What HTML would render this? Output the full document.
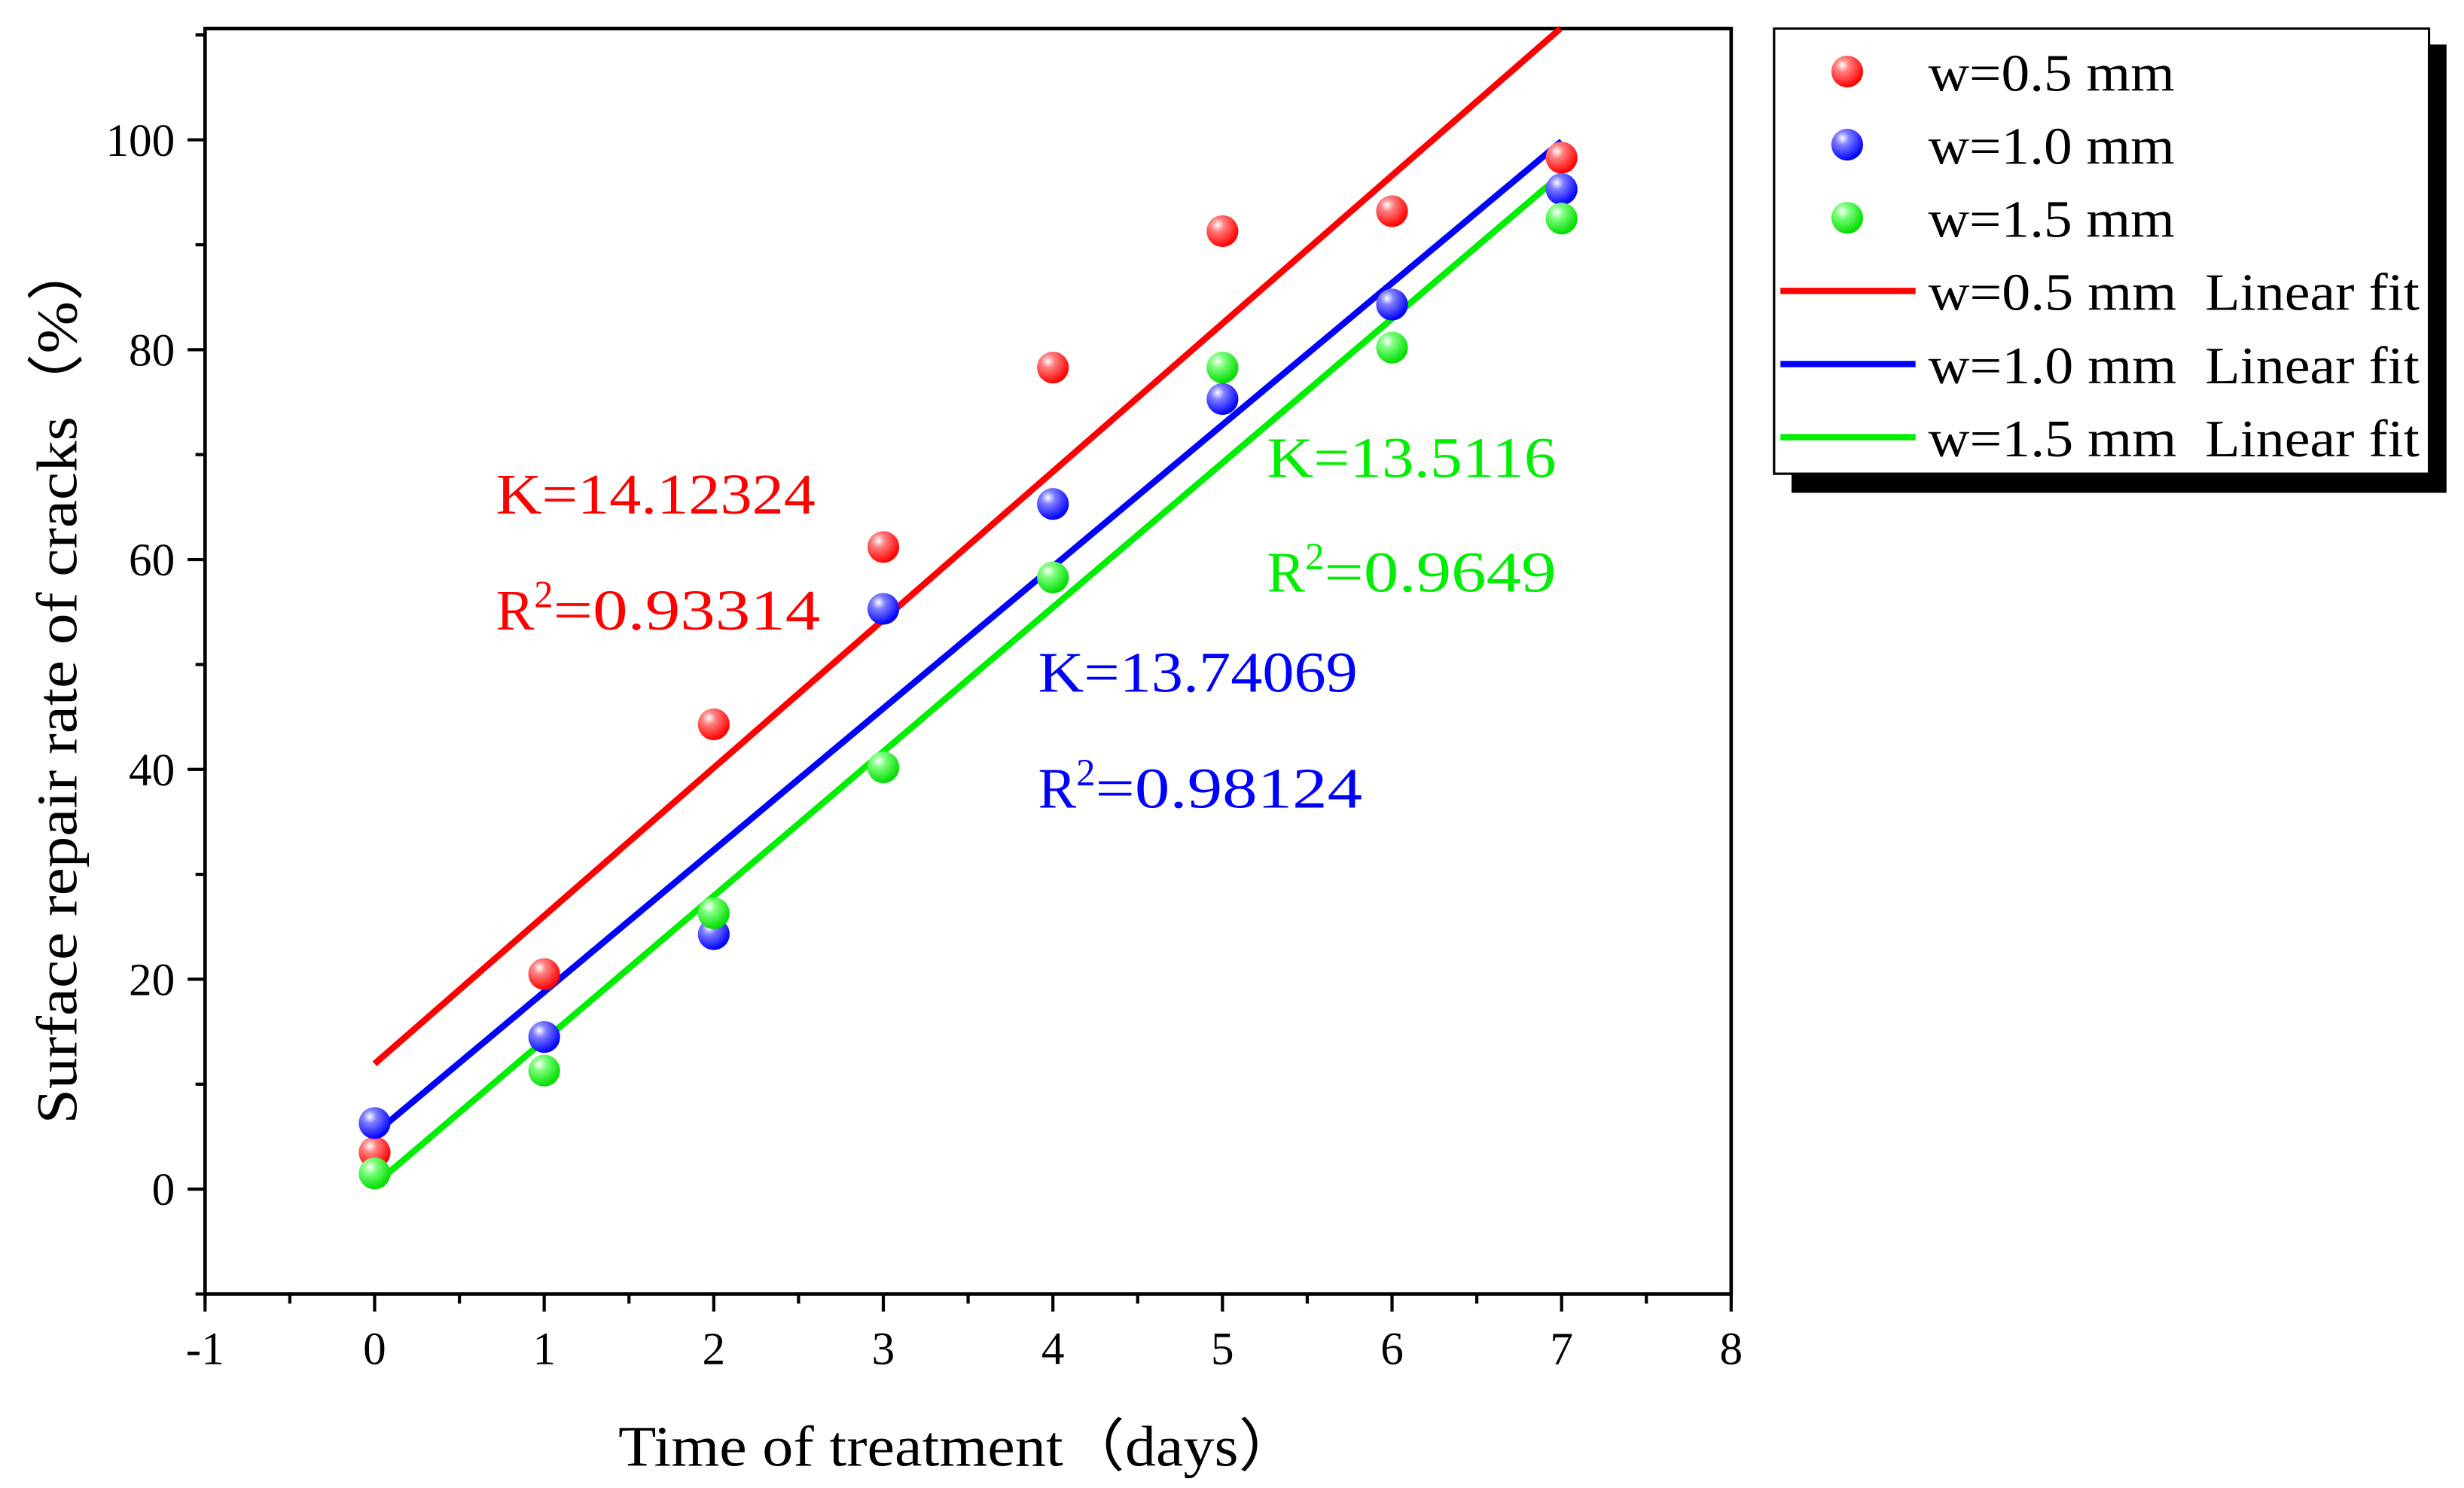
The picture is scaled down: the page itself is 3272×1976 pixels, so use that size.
<!DOCTYPE html>
<html><head><meta charset="utf-8"><style>
html,body{margin:0;padding:0;background:#fff;}
svg{display:block;}
text{font-family:"Liberation Serif",serif;}
</style></head><body>
<svg id="chart" width="3272" height="1976" viewBox="0 0 1550 936" preserveAspectRatio="none" xmlns="http://www.w3.org/2000/svg">
<defs>
<radialGradient id="gr" cx="0.35" cy="0.3" r="0.7"><stop offset="0" stop-color="#fff"/><stop offset="0.3" stop-color="#ff8080"/><stop offset="1" stop-color="#ff0000"/></radialGradient>
<radialGradient id="gb" cx="0.35" cy="0.3" r="0.7"><stop offset="0" stop-color="#fff"/><stop offset="0.3" stop-color="#8080ff"/><stop offset="1" stop-color="#0000ff"/></radialGradient>
<radialGradient id="gg" cx="0.35" cy="0.3" r="0.7"><stop offset="0" stop-color="#fff"/><stop offset="0.3" stop-color="#80ff80"/><stop offset="1" stop-color="#00dd00"/></radialGradient>
</defs>
<g id="axes"></g>
<g id="marks"></g>
<text x="389" y="922" font-size="36" textLength="429" lengthAdjust="spacingAndGlyphs">Time of treatment（days）</text>
<text transform="translate(48,707) rotate(-90)" font-size="36" textLength="557" lengthAdjust="spacingAndGlyphs">Surface repair rate of cracks（%）</text>
<g fill="#ff0000" font-size="36">
<text x="312" y="323" textLength="201" lengthAdjust="spacingAndGlyphs">K=14.12324</text>
<text x="312" y="396">R<tspan font-size="24" dy="-14">2</tspan><tspan dy="14" textLength="168" lengthAdjust="spacingAndGlyphs">=0.93314</tspan></text>
</g>
<g fill="#0000ff" font-size="36">
<text x="653" y="435" textLength="201" lengthAdjust="spacingAndGlyphs">K=13.74069</text>
<text x="653" y="508">R<tspan font-size="24" dy="-14">2</tspan><tspan dy="14" textLength="168" lengthAdjust="spacingAndGlyphs">=0.98124</tspan></text>
</g>
<g fill="#00ee00" font-size="36">
<text x="797" y="300" textLength="182" lengthAdjust="spacingAndGlyphs">K=13.5116</text>
<text x="797" y="372">R<tspan font-size="24" dy="-14">2</tspan><tspan dy="14" textLength="146" lengthAdjust="spacingAndGlyphs">=0.9649</tspan></text>
</g>
<g id="legend">
<rect x="1127" y="28" width="412" height="282" fill="#000"/>
<rect x="1116" y="18" width="412" height="280" fill="#fff" stroke="#000" stroke-width="1.5"/>
</g>
</svg>
<script>
const days=[0,1,2,3,4,5,6,7];
const redVals=[3.5,20.5,44.3,61.2,78.3,91.3,93.2,98.3];
const blueVals=[6.3,14.5,24.3,55.3,65.3,75.3,84.3,95.3];
const greenVals=[1.5,11.3,26.3,40.2,58.3,78.3,80.2,92.5];
const xTicks=[-1,0,1,2,3,4,5,6,7,8];
const yTicks=[0,20,40,60,80,100];
const legendLabels=["w=0.5 mm","w=1.0 mm","w=1.5 mm","w=0.5 mm  Linear fit","w=1.0 mm  Linear fit","w=1.5 mm  Linear fit"];
const NS="http://www.w3.org/2000/svg";
const L=129,R=1089,T=18,B=814;
const xMin=-1,xMax=8,yMin=-10,yMax=110.6;
const X=v=>L+(v-xMin)/(xMax-xMin)*(R-L);
const Y=v=>B-(v-yMin)/(yMax-yMin)*(B-T);
function mk(tag,attrs,parent){const e=document.createElementNS(NS,tag);for(const k in attrs)e.setAttribute(k,attrs[k]);parent.appendChild(e);return e;}
const axes=document.getElementById('axes'),marks=document.getElementById('marks'),legend=document.getElementById('legend');
let f=mk('rect',{x:L,y:T,width:R-L,height:B-T,fill:'none',stroke:'#000','stroke-width':2.2},axes);


xTicks.forEach(v=>{
 let t=mk('line',{x1:X(v),x2:X(v),y1:B,y2:B+11,stroke:'#000','stroke-width':2},axes);
 
 
 if(v<xMax){let m=mk('line',{x1:X(v+0.5),x2:X(v+0.5),y1:B,y2:B+6,stroke:'#000','stroke-width':2},axes);
 
 }
 let s=mk('text',{x:X(v),y:B+44,'font-size':29,'text-anchor':'middle'},axes);s.textContent=v;
 
 
});
[-10,0,10,20,30,40,50,60,70,80,90,100,110].forEach(v=>{
 const major=v%20===0;
 let t=mk('line',{x1:L,x2:L-(major?11:6),y1:Y(v),y2:Y(v),stroke:'#000','stroke-width':2},axes);
 
 
});
yTicks.forEach(v=>{
 let s=mk('text',{x:L-19,y:Y(v)+10,'font-size':29,'text-anchor':'end'},axes);s.textContent=v;
 
 
});
const series=[[redVals,'#ff0000','url(#gr)','red'],[blueVals,'#0000ff','url(#gb)','blue'],[greenVals,'#00ee00','url(#gg)','green']];
function fit(ys){const n=days.length;const mx=days.reduce((a,b)=>a+b)/n,my=ys.reduce((a,b)=>a+b)/n;let sxy=0,sxx=0;days.forEach((x,i)=>{sxy+=(x-mx)*(ys[i]-my);sxx+=(x-mx)*(x-mx);});const k=sxy/sxx;return [k,my-k*mx];}
series.forEach(([vals,col,grad,nm])=>{
 const [k,b]=fit(vals);
 let x0=0,x1=7;let y1=k*x1+b;if(y1>yMax){x1=(yMax-b)/k;y1=yMax;}
 let ln=mk('line',{x1:X(x0),y1:Y(k*x0+b),x2:X(x1),y2:Y(y1),stroke:col,'stroke-width':4},marks);
 
 
});
series.forEach(([vals,col,grad,nm])=>{
 vals.forEach((v,i)=>{
  let c=mk('circle',{cx:X(days[i]),cy:Y(v),r:10,fill:grad},marks);
  
  
 });
});
legendLabels.forEach((lab,i)=>{
 const yy=45+i*46;const s=series[i%3];
 if(i<3){let c=mk('circle',{cx:1162,cy:yy,r:10,fill:s[2]},legend);
  
  }
 else{let l=mk('line',{x1:1120,x2:1205,y1:yy,y2:yy,stroke:s[1],'stroke-width':4},legend);
  
  }
 let t=mk('text',{x:1213,y:yy+12,'font-size':33,textLength:(i<3?155:309),lengthAdjust:'spacingAndGlyphs'},legend);t.textContent=lab;
 t.style.whiteSpace='pre';
 
 
});
</script>
</body></html>
